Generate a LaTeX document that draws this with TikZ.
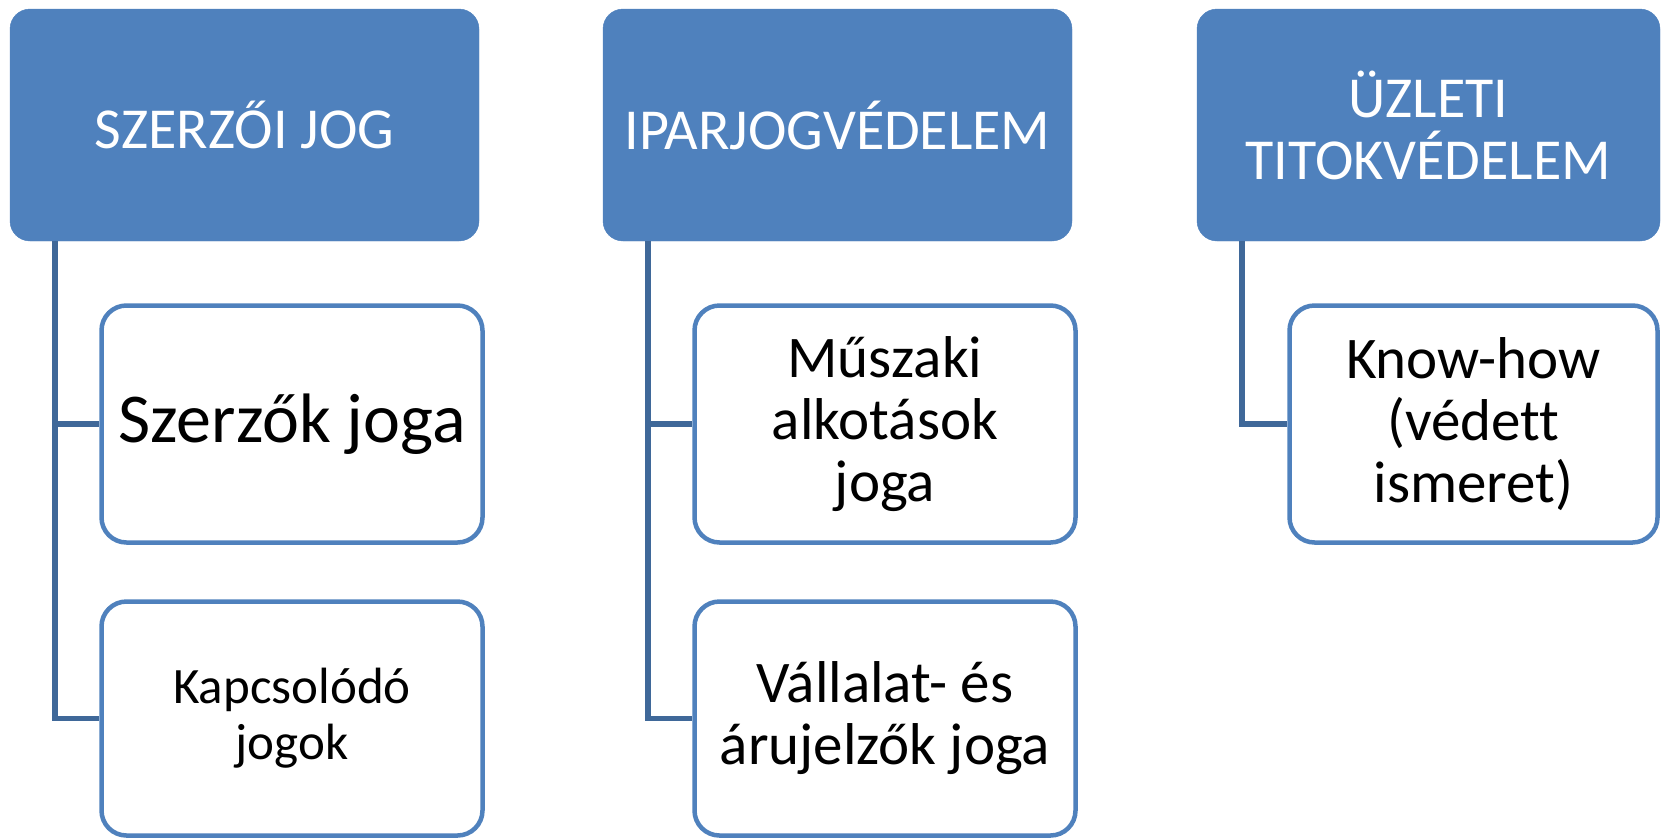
\documentclass[tikz,border=0pt]{standalone}
\usepackage{fontspec}
\setmainfont{Carlito}[Ligatures={NoCommon,NoContextual}, Contextuals=NoAlternate]
\definecolor{headblue}{RGB}{79,129,189}
\definecolor{linkblue}{RGB}{63,104,153}

\begin{document}
\begin{tikzpicture}[x=1pt,y=-1pt,
		head/.style={fill=headblue, draw=headblue, rounded corners=20pt, text=white, minimum width=469pt, minimum height=232pt, inner sep=0pt, align=center, font=\fontsize{58}{62}\selectfont},
		item/.style={draw=headblue, line width=4.5pt, fill=white, rounded corners=25pt, minimum width=381pt, minimum height=237pt, inner sep=0pt, align=center, font=\fontsize{59}{62}\selectfont},
		link/.style={draw=linkblue, line width=5.5pt}]
		\useasboundingbox (0,0) rectangle (1661,839);
		
		%headers
		\node[head] (szjog) at (244.5,125) {SZERZŐI JOG};
		\node[head] (ipar) at (837.5,125) {IPARJOGVÉDELEM};
		\node[head, minimum width=463pt] (uzlet) at (1428.5,125) {ÜZLETI\\TITOKVÉDELEM};
		
		%items
		\node[item, font=\fontsize{70}{74}\selectfont] (szerzok) at (292,424) {\raisebox{-6pt}{Szerzők joga}};
		\node[item, minimum height=234pt, font=\fontsize{51}{56}\selectfont] (kapcs) at (292,718.5) {Kapcsolódó\\jogok};
		
		\node[item] (muszaki) at (885,424) {Műszaki\\alkotások\\joga};
		\node[item, minimum height=234pt] (vallalat) at (885,718.5) {Vállalat- és\\árujelzők joga};
		
		\node[item, minimum width=368pt] (knowhow) at (1473.5,424) {Know-how\\(védett\\ismeret)};
		
		%connectors
		\draw[link] ([xshift=45pt]szjog.south west) |- (szerzok.west);
		\draw[link] ([xshift=45pt]szjog.south west) |- (kapcs.west);
		
		\draw[link] ([xshift=45pt]ipar.south west) |- (muszaki.west);
		\draw[link] ([xshift=45pt]ipar.south west) |- (vallalat.west);
		
		\draw[link] ([xshift=45pt]uzlet.south west) |- (knowhow.west);
		
	\end{tikzpicture}
\end{document}
